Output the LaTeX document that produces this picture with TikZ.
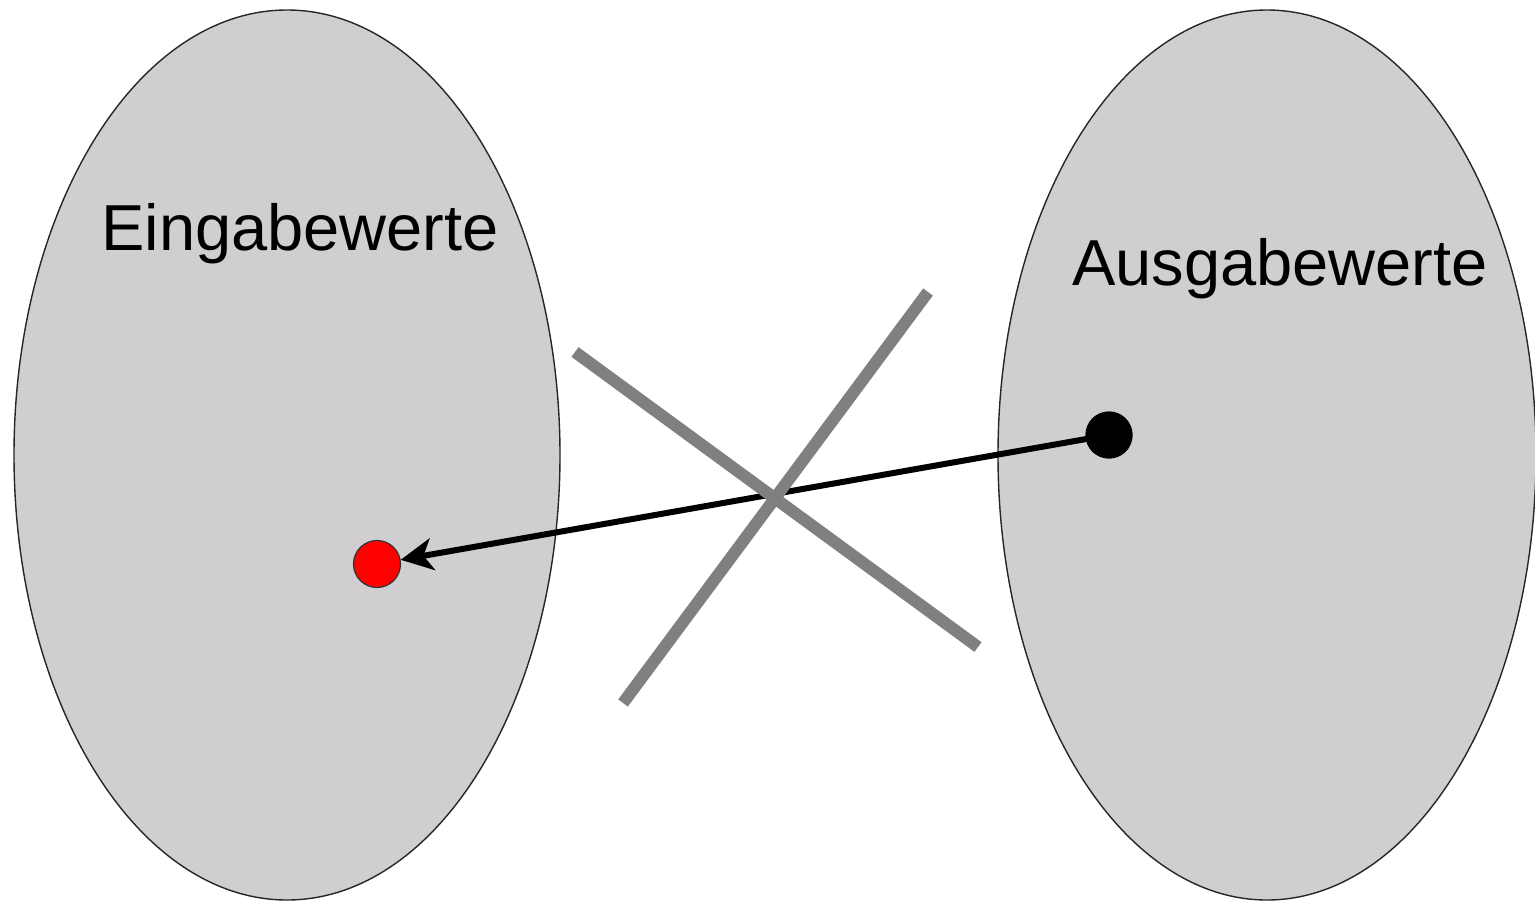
\documentclass[tikz,border=0pt]{standalone}
\usepackage{fontspec}
\setmainfont{Liberation Sans}
\usetikzlibrary{shapes.geometric,arrows.meta}
\definecolor{setfill}{RGB}{208,206,208}
\definecolor{crossgray}{RGB}{128,128,128}
\tikzset{
  valueset/.style={ellipse, draw=black!85, line width=1.4pt, fill=setfill,
    inner sep=0pt, minimum width=546pt, minimum height=890pt},
  setlabel/.style={anchor=base, font=\fontsize{65}{78}\selectfont, inner sep=0pt},
  dot/.style={circle, inner sep=0pt, minimum size=47pt},
  crossline/.style={draw=crossgray, line width=12pt},
  mapping/.style={draw=black, line width=6pt,
    -{Stealth[length=32pt, width=32pt, inset=9pt]}}
}
\begin{document}
\begin{tikzpicture}[x=1pt, y=-1pt]
  \useasboundingbox (0,0) rectangle (1535,903);
  \begin{scope}
    \clip (0,0) rectangle (1535,903);
    % the two sets
    \node[valueset] (inset) at (287,455) {};
    \node[valueset, minimum width=538pt] (outset) at (1267,455) {};
  \end{scope}
  \node[setlabel] (inlabel) at (300,250) {Eingabewerte};
  \node[setlabel] (outlabel) at (1280,285) {Ausgabewerte};
  % elements
  \node[dot, fill=red, draw=black!80, line width=1.2pt] (x) at (377,564) {};
  \node[dot, fill=black] (y) at (1109,435) {};
  % the (invalid) backwards mapping
  \draw[mapping] (y.center) -- (x);
  % crossing out
  \coordinate (a1) at (575,352);
  \coordinate (a2) at (978,647);
  \coordinate (b1) at (928,292);
  \coordinate (b2) at (623,703);
  \draw[crossline] (a1) -- (a2);
  \draw[crossline] (b1) -- (b2);
  \node[dot, fill=black] at (y) {};
\end{tikzpicture}
\end{document}
